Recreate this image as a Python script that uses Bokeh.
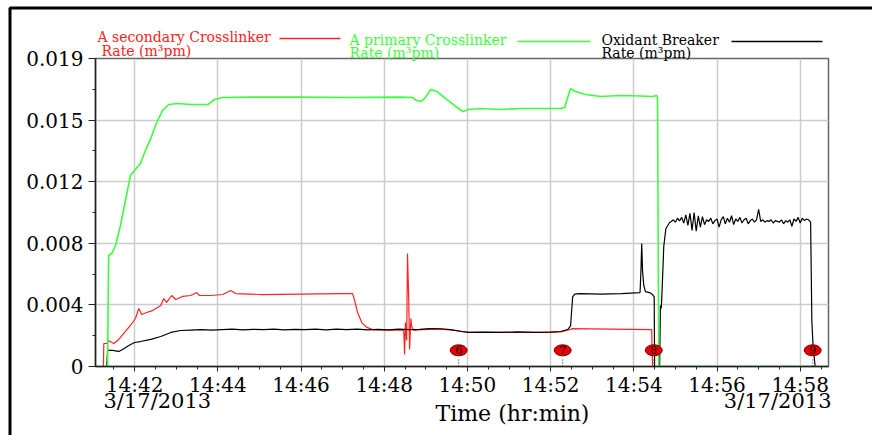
from bokeh.plotting import figure
from bokeh.models import Range1d, FixedTicker
from bokeh.core.properties import value
from bokeh.embed import file_html
from bokeh.resources import INLINE

# ---- data: time in minutes after 14:00, rates in m3/min ----
green_t = [41.30, 41.35, 41.375, 41.45, 41.54, 41.66, 41.78, 41.90, 42.00, 42.14,
           42.26, 42.39, 42.53, 42.67, 42.82, 43.03, 43.35, 43.76, 43.92, 44.12,
           44.79, 45.99, 47.19, 48.39, 48.68, 48.78, 48.88, 48.97, 49.12, 49.26,
           49.48, 49.72, 49.89, 50.03, 50.32, 50.80, 51.28, 51.76, 52.24, 52.34,
           52.41, 52.48, 52.60, 52.84, 53.20, 53.68, 54.16, 54.45, 54.55, 54.57,
           54.60, 58.68]
green_v = [0, 0, 0.00685, 0.00697, 0.00746, 0.0087, 0.01024, 0.01178, 0.01209, 0.01252,
           0.01332, 0.01407, 0.01505, 0.01579, 0.01616, 0.01622, 0.01616, 0.01616, 0.01647, 0.01659,
           0.01662, 0.01662, 0.01659, 0.01662, 0.01659, 0.01641, 0.01635, 0.01653, 0.01709, 0.01697,
           0.01653, 0.01604, 0.01573, 0.01585, 0.01592, 0.01585, 0.01592, 0.01592, 0.01592, 0.01598,
           0.01659, 0.01715, 0.01696, 0.01678, 0.01666, 0.01672, 0.01669, 0.01666, 0.01672, 0.01659,
           0, 0]

red_t = [41.25, 41.26, 41.33, 41.375, 41.50, 41.62, 41.76, 41.90, 42.02, 42.10,
         42.17, 42.29, 42.43, 42.63, 42.70, 42.77, 42.89, 42.99, 43.15, 43.35,
         43.49, 43.56, 43.83, 44.12, 44.31, 44.43, 45.03, 45.99, 46.95, 47.24,
         47.29, 47.36, 47.46, 47.58, 47.72, 48.03, 48.39, 48.47, 48.49, 48.51,
         48.54, 48.56, 48.59, 48.61, 48.64, 48.66, 48.71, 48.88, 49.36, 49.72,
         50.03, 50.80, 51.76, 52.24, 52.43, 52.53, 53.44, 54.43, 54.45, 58.68]
red_v = [0, 0.00142, 0.00142, 0.0016, 0.00142, 0.00167, 0.0021, 0.00253, 0.00296, 0.00358,
         0.00321, 0.00333, 0.00345, 0.00376, 0.00419, 0.00395, 0.00438, 0.00413, 0.00432, 0.00438,
         0.00456, 0.00438, 0.00438, 0.00444, 0.00469, 0.0045, 0.00444, 0.00447, 0.0045, 0.0045,
         0.00407, 0.00333, 0.00271, 0.00241, 0.00228, 0.00225, 0.00225, 0.00222, 0.00074, 0.00271,
         0.0016, 0.00697, 0.00407, 0.00105, 0.00296, 0.00247, 0.00222, 0.00228, 0.00231, 0.00222,
         0.0021, 0.0021, 0.0021, 0.00213, 0.00225, 0.00234, 0.00231, 0.00228, 0, 0]

# oxidant breaker: start-up and first stages
black_rise_t = [41.28, 41.33, 41.35, 41.47, 41.62, 41.71, 41.86, 42.00, 42.14, 42.39,
                42.63, 42.87, 43.11, 43.35, 43.59, 43.85, 44.10, 44.35, 44.60, 44.85,
                45.10, 45.35, 45.60, 45.85, 46.10, 46.35, 46.60, 46.85, 47.10, 47.35,
                47.60, 47.85, 48.10, 48.35, 48.60, 48.85, 49.10, 49.35, 49.60, 49.85,
                50.03, 50.40, 50.80, 51.20, 51.60, 52.00, 52.24, 52.41, 52.48, 52.53,
                52.58, 52.70, 53.20, 53.70, 54.15, 54.17, 54.19, 54.21, 54.24, 54.28,
                54.38, 54.45, 54.49, 54.50, 54.62, 54.64, 54.66, 54.68, 54.72, 54.77,
                54.86]
black_rise_v = [0, 0, 0.00099, 0.00099, 0.00093, 0.00105, 0.0013, 0.00148, 0.00154, 0.00167,
                0.00185, 0.0021, 0.00222, 0.00225, 0.00228, 0.00225, 0.00228, 0.0023, 0.00226, 0.00229,
                0.00227, 0.0023, 0.00226, 0.00229, 0.00227, 0.00231, 0.00226, 0.0023, 0.00227, 0.00231,
                0.00226, 0.00229, 0.00226, 0.0023, 0.00227, 0.00229, 0.00234, 0.00233, 0.00228, 0.00216,
                0.0021, 0.00212, 0.0021, 0.00213, 0.0021, 0.00212, 0.00216, 0.00228, 0.0025, 0.0043,
                0.00447, 0.0045, 0.00447, 0.0045, 0.00456, 0.0058, 0.00759, 0.0059, 0.005, 0.00462,
                0.00456, 0.00444, 0.0043, 0, 0, 0.00376, 0.00358, 0.0047, 0.0074, 0.0085,
                0.00888]
# oxidant breaker: final stage, logged every 3 s from 14:54:54
black_plateau_v = [0.00895, 0.00905, 0.00890, 0.00915, 0.00898, 0.00920, 0.00885, 0.00935, 0.00870, 0.00945,
                   0.00840, 0.00950, 0.00835, 0.00930, 0.00860, 0.00925, 0.00875, 0.00905, 0.00895, 0.00915,
                   0.00880, 0.00900, 0.00910, 0.00860, 0.00905, 0.00925, 0.00880, 0.00915, 0.00890, 0.00930,
                   0.00875, 0.00910, 0.00895, 0.00920, 0.00885, 0.00905, 0.00915, 0.00880, 0.00900, 0.00910,
                   0.00890, 0.00905, 0.00970, 0.00895, 0.00905, 0.00890, 0.00900, 0.00895, 0.00905, 0.00885,
                   0.00900, 0.00895, 0.00890, 0.00905, 0.00880, 0.00900, 0.00890, 0.00905, 0.00865, 0.00910,
                   0.00895, 0.00920, 0.00885, 0.00915, 0.00900, 0.00910, 0.00905, 0.00890]
black_plateau_start = 54.90
black_plateau_step = 0.05
black_tail_t = [58.28, 58.31, 58.36, 58.68]
black_tail_v = [0.0028, 0.0012, 0, 0]

# stage markers
marker_t = [49.79, 52.29, 54.48, 58.30]
marker_label = ["6", "7", "8", "9"]
marker_level = 0.001

x_ticks = [42, 44, 46, 48, 50, 52, 54, 56, 58]
x_labels = ["14:42", "14:44", "14:46", "14:48", "14:50", "14:52", "14:54", "14:56", "14:58"]
x_minor = [41.5, 42.5, 43, 43.5, 44.5, 45, 45.5, 46.5, 47, 47.5, 48.5, 49, 49.5,
           50.5, 51, 51.5, 52.5, 53, 53.5, 54.5, 55, 55.5, 56.5, 57, 57.5, 58.5]
y_ticks = [0, 0.0038, 0.0076, 0.0114, 0.0152, 0.019]
y_labels = ["0", "0.004", "0.008", "0.012", "0.015", "0.019"]
y_minor = [0.0019, 0.0057, 0.0095, 0.0133, 0.0171]

legend_names = ["A secondary Crosslinker", "A primary Crosslinker", "Oxidant Breaker"]
legend_unit = "Rate (m\u00b3pm)"
date_label = "3/17/2013"
x_title = "Time (hr:min)"

black_plateau_t = [round(black_plateau_start + black_plateau_step * i, 2)
                   for i in range(len(black_plateau_v))]
black_t = black_rise_t + black_plateau_t + black_tail_t
black_v = black_rise_v + black_plateau_v + black_tail_v

FONT = "DejaVu Serif"
RED = "#ff2222"
GREEN = "#3cff3c"
BLACK = "#000000"

W, H = 872, 435
LEFT, RIGHT, TOP, BOTTOM = 95, 828, 58, 366

# ---------------- main chart ----------------
p = figure(width=W, height=H, output_backend="svg", toolbar_location=None,
           x_range=Range1d(41.06, 58.68), y_range=Range1d(0, 0.019),
           min_border_left=LEFT, min_border_right=W - RIGHT,
           min_border_top=TOP, min_border_bottom=H - BOTTOM)
p.background_fill_color = "white"
p.border_fill_color = "white"
p.outline_line_color = "#666666"
p.outline_line_width = 1.5

p.xaxis.ticker = FixedTicker(ticks=x_ticks, minor_ticks=x_minor)
p.xaxis.major_label_overrides = dict(zip(x_ticks, x_labels))
p.yaxis.ticker = FixedTicker(ticks=y_ticks, minor_ticks=y_minor)
p.yaxis.major_label_overrides = dict(zip(y_ticks, y_labels))
for ax in (p.xaxis[0], p.yaxis[0]):
    ax.major_label_text_font = FONT
    ax.major_label_text_font_size = "20px"
    ax.major_label_text_color = "black"
    ax.axis_line_color = "#222222"
    ax.axis_line_width = 1.5
    ax.major_tick_line_color = "#222222"
    ax.minor_tick_line_color = "#222222"
    ax.major_tick_in = 0
    ax.minor_tick_in = 0
    ax.minor_tick_out = 3
p.yaxis.major_tick_out = 7
p.yaxis.major_label_standoff = 5
p.xaxis.major_tick_out = 5
p.xaxis.major_label_standoff = 1

p.grid.grid_line_color = "#cccccc"
p.grid.grid_line_width = 1.5

p.line(red_t, red_v, line_color=RED, line_width=1.2)
p.line(black_t, black_v, line_color=BLACK, line_width=1.2)
p.line(green_t, green_v, line_color=GREEN, line_width=1.6)

# stage markers with dotted stems
n = len(marker_t)
p.segment(x0=marker_t, y0=[0] * n, x1=marker_t, y1=[0.00055] * n,
          line_color="#222222", line_dash="1 2", line_width=1)
p.ellipse(x=marker_t, y=[marker_level] * n, width=17, height=11,
          width_units="screen", height_units="screen",
          fill_color="#e80000", line_color="#700000", line_width=1)
p.text(x=marker_t, y=[marker_level] * n, text=marker_label,
       text_font=value(FONT), text_font_size="11px", text_color="#200000",
       text_align="center", text_baseline="middle")

# ------------- page layer: legend, dates, axis title, frame -------------
# separate root laid over the chart; pixel space with origin top-left
o = figure(width=W, height=H, output_backend="svg", toolbar_location=None,
           x_range=Range1d(0, W), y_range=Range1d(H, 0), min_border=0)
o.axis.visible = False
o.grid.visible = False
o.outline_line_color = None
o.background_fill_alpha = 0
o.border_fill_alpha = 0
o.styles = {"position": "absolute", "left": "0px", "top": "0px"}

legend_colors = [RED, GREEN, BLACK]
o.text(x=[97, 349, 601], y=[36, 39, 39], text=legend_names, text_color=legend_colors,
       text_font=value(FONT), text_font_size="14px", text_baseline="middle")
o.text(x=[101, 349, 601], y=[50, 52, 52], text=[legend_unit] * 3, text_color=legend_colors,
       text_font=value(FONT), text_font_size="14px", text_baseline="middle")
o.segment(x0=[279, 517, 731], y0=[38, 41, 41], x1=[340, 590, 822], y1=[38, 41, 41],
          line_color=legend_colors, line_width=1.6)

o.text(x=[103], y=[400], text=[date_label], text_font=value(FONT), text_font_size="21px",
       text_baseline="middle", text_align="left")
o.text(x=[831], y=[400], text=[date_label], text_font=value(FONT), text_font_size="21px",
       text_baseline="middle", text_align="right")
o.text(x=[512], y=[413], text=[x_title], text_font=value(FONT), text_font_size="22px",
       text_baseline="middle", text_align="center")

o.line(x=[9.5, 9.5, W + 5], y=[H + 5, 7.5, 7.5], line_color="black", line_width=3)

open("out.html", "w").write(file_html([p, o], INLINE))
